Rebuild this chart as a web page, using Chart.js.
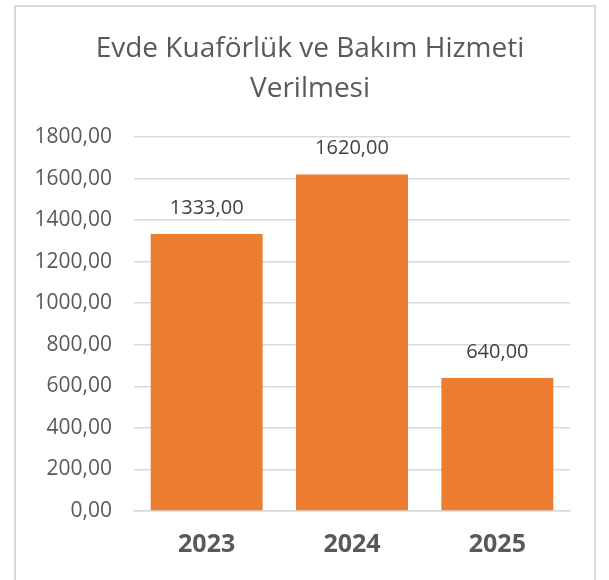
<!DOCTYPE html>
<html>
<head>
<meta charset="utf-8">
<script src="https://cdn.jsdelivr.net/npm/chart.js@4"></script>
<style>
  html, body { margin: 0; padding: 0; background: #fff; }
  #frame { position: absolute; left: 14px; top: 5px; width: 582px; height: 600px; border: 2px solid #d9d9d9; box-sizing: border-box; }
  #wrap { position: absolute; left: 0; top: 0; width: 609px; height: 580px; }
</style>
</head>
<body>
<div id="frame"></div>
<div id="wrap"><canvas id="chart" width="609" height="580"></canvas></div>
<script>
const years = ['2023', '2024', '2025'];
const values = [1333, 1620, 640];
const titleLines = ['Evde Kuaförlük ve Bakım Hizmeti', 'Verilmesi'];

const fmt = v => v.toFixed(2).replace('.', ',');

// title centred on the whole frame, not on the plot
const frameTitle = {
  id: 'frameTitle',
  afterDraw(chart) {
    const ctx = chart.ctx;
    ctx.save();
    ctx.font = '28px "Open Sans"';
    ctx.fillStyle = '#595959';
    ctx.textAlign = 'center';
    ctx.textBaseline = 'alphabetic';
    titleLines.forEach((line, i) => ctx.fillText(line, 310, 57 + i * 39.5));
    ctx.restore();
  }
};

// value labels above each bar
const barLabels = {
  id: 'barLabels',
  afterDatasetsDraw(chart) {
    const ctx = chart.ctx;
    const meta = chart.getDatasetMeta(0);
    ctx.save();
    ctx.font = '20px "Open Sans"';
    ctx.fillStyle = '#404040';
    ctx.textAlign = 'center';
    ctx.textBaseline = 'alphabetic';
    meta.data.forEach((bar, i) => {
      ctx.fillText(fmt(values[i]), bar.x, bar.y - 20);
    });
    ctx.restore();
  }
};

new Chart(document.getElementById('chart'), {
  type: 'bar',
  data: {
    labels: years,
    datasets: [{ data: values, backgroundColor: '#ED7D31', barPercentage: 1, categoryPercentage: 0.77 }]
  },
  options: {
    responsive: false,
    animation: false,
    layout: { padding: { left: 0, right: 39, top: 137, bottom: 0 } },
    plugins: {
      legend: { display: false },
      tooltip: { enabled: false },
      title: { display: false }
    },
    scales: {
      y: {
        min: 0, max: 1800,
        ticks: { stepSize: 200, callback: v => fmt(v), color: '#595959', font: { family: 'Open Sans', size: 21 }, padding: 22 },
        grid: { color: '#d9d9d9', lineWidth: 1.5, drawTicks: false },
        border: { display: false },
        afterFit(scale) { scale.width = 134; }
      },
      x: {
        ticks: { color: '#595959', font: { family: 'Open Sans', size: 25, weight: 'bold' }, padding: 19 },
        grid: { display: false, drawTicks: false },
        border: { color: '#d9d9d9', width: 1.5 },
        afterFit(scale) { scale.height = 69; }
      }
    }
  },
  plugins: [barLabels, frameTitle]
});
</script>
</body>
</html>
